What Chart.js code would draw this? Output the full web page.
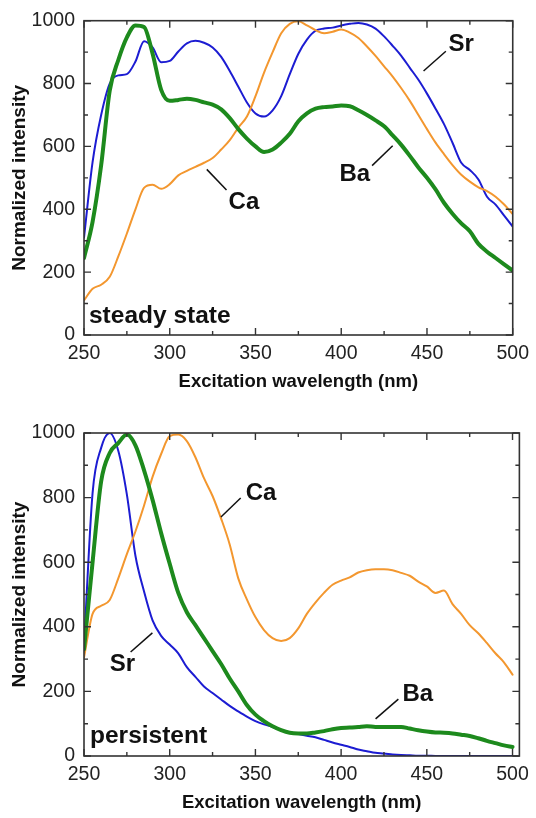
<!DOCTYPE html>
<html>
<head>
<meta charset="utf-8">
<script src="https://cdn.jsdelivr.net/npm/chart.js@4.4.1/dist/chart.umd.min.js"></script>
<style>
    html, body { margin: 0; padding: 0; background: #fff; }
    #wrap { position: relative; width: 536px; height: 818px; }
    canvas { position: absolute; left: 0; }
</style>
</head>
<body>
<div id="wrap">
    <canvas id="chart_steady" width="536" height="409" style="top:0"></canvas>
    <canvas id="chart_persist" width="536" height="409" style="top:409px"></canvas>
</div>
<script>
// wavelength grid (nm), shared by all curves
const wavelength = [250, 255, 260, 265, 270, 275, 280, 285, 290, 295, 300, 305, 310, 315, 320, 325, 330, 335, 340, 345,
    350, 355, 360, 365, 370, 375, 380, 385, 390, 395, 400, 405, 410, 415, 420, 425, 430, 435, 440, 445,
    450, 455, 460, 465, 470, 475, 480, 485, 490, 495, 500];

// steady state
const steady_Ba = [245, 360, 540, 777, 875, 947, 985, 980, 895, 780, 745, 748, 752, 748, 740, 733, 718, 690, 655, 625,
    600, 582, 590, 612, 640, 680, 705, 720, 725, 727, 730, 728, 715, 700, 683, 664, 635, 605, 570, 533,
    500, 463, 420, 385, 355, 330, 290, 265, 245, 225, 205];
const steady_Sr = [310, 550, 700, 800, 826, 830, 870, 935, 915, 868, 872, 902, 928, 936, 930, 915, 885, 840, 790, 740,
    705, 695, 715, 760, 830, 895, 940, 968, 975, 978, 985, 990, 993, 988, 975, 950, 920, 888, 850, 812,
    768, 720, 670, 610, 548, 525, 495, 440, 415, 380, 345];
const steady_Ca = [110, 147, 160, 185, 250, 323, 400, 468, 478, 465, 480, 508, 522, 535, 548, 563, 590, 620, 660, 695,
    760, 835, 900, 960, 990, 998, 985, 970, 960, 965, 972, 962, 945, 918, 888, 855, 822, 785, 745, 700,
    655, 612, 575, 540, 510, 488, 470, 458, 440, 415, 385];

// persistent
const persist_Ba = [330, 600, 850, 938, 969, 995, 962, 885, 793, 690, 595, 505, 445, 405, 365, 325, 285, 240, 200, 158,
    128, 108, 92, 80, 72, 70, 70, 73, 77, 83, 87, 88, 90, 92, 90, 90, 90, 90, 85, 80,
    76, 73, 72, 70, 66, 62, 55, 47, 40, 33, 28];
const persist_Sr = [340, 814, 954, 1000, 945, 810, 620, 510, 420, 372, 345, 318, 275, 245, 215, 195, 175, 155, 138, 122,
    108, 98, 90, 80, 73, 68, 63, 58, 50, 42, 35, 28, 20, 15, 10, 8, 5, 3, 2, 1,
    1, 0, 0, 0, 0, 0, 0, 0, 0, 0, 0];
const persist_Ca = [305, 440, 465, 483, 550, 625, 695, 775, 864, 935, 990, 995, 975, 925, 860, 805, 735, 655, 550, 485,
    430, 390, 365, 356, 365, 395, 440, 475, 505, 530, 543, 553, 568, 575, 578, 578, 575, 567, 558, 540,
    525, 505, 512, 470, 440, 405, 380, 350, 318, 290, 252];

// tick labels
const xTicks = [250, 300, 350, 400, 450, 500];
const yTicks = [0, 200, 400, 600, 800, 1000];

// labels, in data coords: [text, x, y, lineFromX, lineFromY, lineToX, lineToY]
const steady_labels = [
    ["Sr", 462.5, 903, 461, 903, 448, 840],
    ["Ba", 399, 489, 418, 539, 430, 602],
    ["Ca", 334.3, 401, 321.6, 527, 333.1, 461],
];
const persist_labels = [
    ["Ca", 344.3, 793, 329.9, 740, 341.4, 799],
    ["Sr", 265, 263, 277.2, 322, 289.9, 381],
    ["Ba", 435.8, 170, 420.1, 115, 433.4, 176],
];

const BLUE = "#1c1cd2";
const GREEN = "#1d8a1d";
const ORANGE = "#f3972f";
const FONT = "'Liberation Sans', Arial, sans-serif";

function toXY(ys) {
    return wavelength.map((x, i) => ({ x: x, y: ys[i] }));
}

// frame with inward ticks on all sides + text labels
const framePlugin = {
    id: "frame",
    afterDraw(chart, args, opts) {
        const { ctx, chartArea: a, scales } = chart;
        const xs = scales.x, ys = scales.y;
        ctx.save();
        ctx.strokeStyle = "#333";
        ctx.lineWidth = 1.6;
        ctx.strokeRect(a.left, a.top, a.right - a.left, a.bottom - a.top);

        ctx.lineWidth = 1.4;
        ctx.beginPath();
        for (let v = 250; v <= 500; v += 25) {
            let px = xs.getPixelForValue(v);
            let len = v % 50 === 0 ? 7 : 4;
            ctx.moveTo(px, a.bottom); ctx.lineTo(px, a.bottom - len);
            ctx.moveTo(px, a.top); ctx.lineTo(px, a.top + len);
        }
        for (let v = 0; v <= 1000; v += 100) {
            let py = ys.getPixelForValue(v);
            let len = v % 200 === 0 ? 7 : 4;
            ctx.moveTo(a.left, py); ctx.lineTo(a.left + len, py);
            ctx.moveTo(a.right, py); ctx.lineTo(a.right - len, py);
        }
        ctx.stroke();

        // series labels with leader lines
        ctx.fillStyle = "#111";
        ctx.font = "bold 24px " + FONT;
        ctx.textBaseline = "alphabetic";
        ctx.textAlign = "left";
        ctx.lineWidth = 1.5;
        ctx.strokeStyle = "#111";
        opts.labels.forEach((l) => {
            ctx.fillText(l[0], xs.getPixelForValue(l[1]), ys.getPixelForValue(l[2]));
            ctx.beginPath();
            ctx.moveTo(xs.getPixelForValue(l[3]), ys.getPixelForValue(l[4]));
            ctx.lineTo(xs.getPixelForValue(l[5]), ys.getPixelForValue(l[6]));
            ctx.stroke();
        });

        ctx.font = "bold 24.5px " + FONT;
        ctx.fillText(opts.title, xs.getPixelForValue(opts.titleAt[0]), ys.getPixelForValue(opts.titleAt[1]));
        ctx.restore();
    }
};

function makeChart(id, series, cfg) {
    return new Chart(document.getElementById(id), {
        type: "line",
        data: {
            datasets: [
                { label: "Ba", data: toXY(series[0]), borderColor: GREEN, borderWidth: 4 },
                { label: "Ca", data: toXY(series[2]), borderColor: ORANGE, borderWidth: 2 },
                { label: "Sr", data: toXY(series[1]), borderColor: BLUE, borderWidth: 2 },
            ]
        },
        options: {
            responsive: false,
            animation: false,
            devicePixelRatio: 1,
            layout: { padding: { left: 0, right: cfg.padRight, top: cfg.padTop, bottom: 0 } },
            elements: {
                point: { radius: 0 },
                line: { cubicInterpolationMode: "monotone", borderCapStyle: "round", borderJoinStyle: "round" }
            },
            plugins: {
                legend: { display: false },
                tooltip: { enabled: false },
                frame: { labels: cfg.labels, title: cfg.title, titleAt: cfg.titleAt }
            },
            scales: {
                x: {
                    type: "linear",
                    min: 250,
                    max: cfg.xMax,
                    afterBuildTicks: (s) => { s.ticks = xTicks.map((v) => ({ value: v })); },
                    afterFit: (s) => { s.height = cfg.xHeight; },
                    grid: { display: false, drawTicks: false },
                    border: { display: false },
                    ticks: {
                        padding: 7, color: "#222", maxRotation: 0,
                        font: { family: FONT, size: 19.5 },
                        callback: (v) => String(v)
                    },
                    title: {
                        display: true,
                        text: "Excitation wavelength (nm)",
                        color: "#111",
                        font: { family: FONT, size: 18.5, weight: "bold" },
                        padding: { top: 0, bottom: cfg.xTitlePad }
                    }
                },
                y: {
                    min: 0,
                    max: 1000,
                    afterBuildTicks: (s) => { s.ticks = yTicks.map((v) => ({ value: v })); },
                    afterFit: (s) => { s.width = 84; },
                    grid: { display: false, drawTicks: false },
                    border: { display: false },
                    ticks: {
                        padding: 9, color: "#222",
                        font: { family: FONT, size: 19.5 },
                        callback: (v) => String(v)
                    },
                    title: {
                        display: true,
                        text: "Normalized intensity",
                        color: "#111",
                        font: { family: FONT, size: 19, weight: "bold" },
                        padding: { top: 8, bottom: 0 }
                    }
                }
            }
        },
        plugins: [framePlugin]
    });
}

let chart_steady = makeChart("chart_steady", [steady_Ba, steady_Sr, steady_Ca], {
    padTop: 16, padRight: 19, xMax: 500, xHeight: 74, xTitlePad: 16,
    labels: steady_labels, title: "steady state", titleAt: [252.9, 38]
});

let chart_persist = makeChart("chart_persist", [persist_Ba, persist_Sr, persist_Ca], {
    padTop: 24, padRight: 13, xMax: 504, xHeight: 62, xTitlePad: 4,
    labels: persist_labels, title: "persistent", titleAt: [253.5, 40]
});
</script>
</body>
</html>
